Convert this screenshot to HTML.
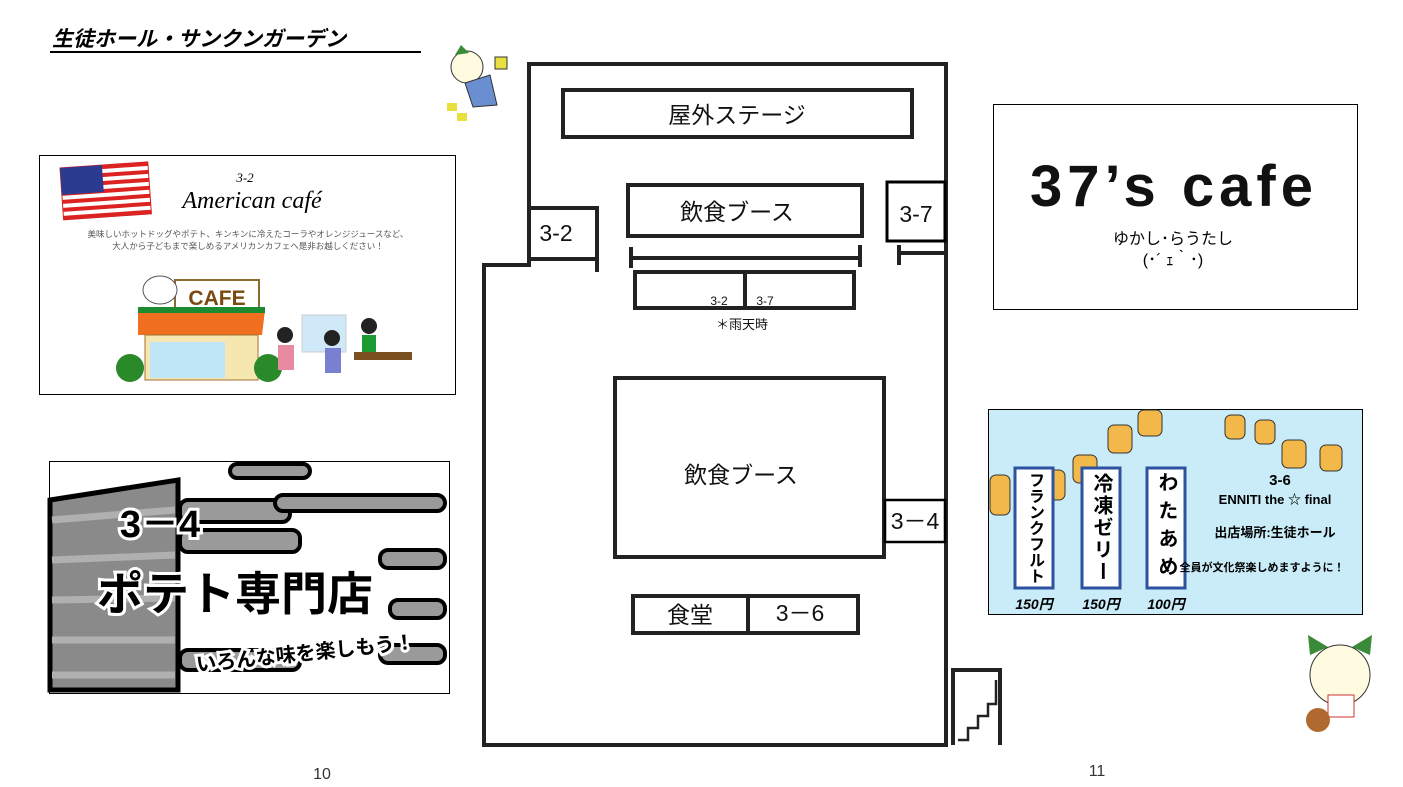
<!DOCTYPE html>
<html><head><meta charset="utf-8"><style>
body{margin:0;width:1403px;height:787px;background:#fff;overflow:hidden;font-family:"Liberation Sans","Noto Sans CJK JP",sans-serif}
svg{position:absolute;left:0;top:0}
.v{position:absolute;writing-mode:vertical-rl;font-weight:bold;color:#000;width:38px;height:120px;display:flex;align-items:center;justify-content:center;line-height:38px}
</style></head><body>
<svg width="1403" height="787" viewBox="0 0 1403 787" font-family="Liberation Sans, Noto Sans CJK JP, sans-serif">
<!-- title -->
<text x="52" y="46" font-size="21" font-weight="bold" font-style="italic">生徒ホール・サンクンガーデン</text>
<line x1="50" y1="52" x2="421" y2="52" stroke="#000" stroke-width="2"/>
<!-- mascots -->
<g transform="translate(445,45)"><circle cx="22" cy="22" r="16" fill="#fffbe0" stroke="#333"/><path d="M10 10 L16 0 L24 8Z" fill="#3a8a3a"/><path d="M20 38 L45 30 L52 60 L28 62Z" fill="#6a8fd0" stroke="#333"/><rect x="50" y="12" width="12" height="12" fill="#e8e040" stroke="#333"/><rect x="2" y="58" width="10" height="8" fill="#e8e040"/><rect x="12" y="68" width="10" height="8" fill="#e8e040"/></g>
<g transform="translate(1300,635)"><circle cx="40" cy="40" r="30" fill="#fffbe0" stroke="#333"/><path d="M10 20 L8 0 L28 12Z" fill="#3a8a3a"/><path d="M70 20 L72 0 L52 12Z" fill="#3a8a3a"/><rect x="28" y="60" width="26" height="22" fill="#fff" stroke="#c33"/><circle cx="18" cy="85" r="12" fill="#b06a30"/></g>
<!-- map -->
<g fill="none" stroke="#222" stroke-width="4">
<path d="M527 64 H946 V745 H484 V265 H529 V64"/>
<rect x="563" y="90" width="349" height="47"/>
<path d="M529 208 H597 V259 H529"/>
<line x1="597" y1="248" x2="597" y2="272"/>
<rect x="628" y="185" width="234" height="51"/>
<line x1="631" y1="258" x2="860" y2="258"/>
<line x1="631" y1="247" x2="631" y2="268"/><line x1="860" y1="245" x2="860" y2="267"/>
<rect x="635" y="272" width="219" height="36"/><line x1="745" y1="272" x2="745" y2="308"/>
<line x1="900" y1="253" x2="946" y2="253"/><line x1="899" y1="245" x2="899" y2="265"/>
<rect x="615" y="378" width="269" height="179"/>
<rect x="633" y="596" width="225" height="37"/><line x1="748" y1="596" x2="748" y2="633"/>
<path d="M953 745 V670 H1000 V745"/>
<path d="M958 740 H968 V728 H978 V716 H988 V704 H996 V680" stroke-width="2.5"/>
</g>
<rect x="887" y="182" width="58" height="59" fill="#fff" stroke="#000" stroke-width="3"/>
<rect x="885" y="500" width="60" height="42" fill="#fff" stroke="#000" stroke-width="2.5"/>
<g fill="#111" font-size="23" text-anchor="middle">
<text x="737" y="123">屋外ステージ</text>
<text x="737" y="220">飲食ブース</text>
<text x="556" y="241">3-2</text>
<text x="916" y="222">3-7</text>
<text x="741" y="483">飲食ブース</text>
<text x="915" y="529">3－4</text>
<text x="690" y="623">食堂</text>
<text x="800" y="621">3－6</text>
<text x="719" y="305" font-size="12">3-2</text>
<text x="765" y="305" font-size="12">3-7</text>
<text x="742" y="329" font-size="13">＊雨天時</text>
</g>
<text x="322" y="779" font-size="16" text-anchor="middle" fill="#333">10</text>
<text x="1097" y="776" font-size="16" text-anchor="middle" fill="#333">11</text>
<!-- cafe card -->
<rect x="39.5" y="155.5" width="416" height="239" fill="#fff" stroke="#000"/>
<g transform="translate(60,168) rotate(-4)"><rect width="88" height="52" fill="#fff" stroke="#c22"/>
<g fill="#d22"><rect y="0" width="88" height="4"/><rect y="8" width="88" height="4"/><rect y="16" width="88" height="4"/><rect y="24" width="88" height="4"/><rect y="32" width="88" height="4"/><rect y="40" width="88" height="4"/><rect y="48" width="88" height="4"/></g><rect width="42" height="27" fill="#2b3b8f"/></g>
<text x="245" y="182" font-size="13" font-style="italic" text-anchor="middle" font-family="Liberation Serif,serif">3-2</text>
<text x="252" y="208" font-size="24" font-style="italic" text-anchor="middle" font-family="Liberation Serif,serif">American café</text>
<text x="248" y="237" font-size="8.5" fill="#555" text-anchor="middle">美味しいホットドッグやポテト、キンキンに冷えたコーラやオレンジジュースなど、</text>
<text x="248" y="249" font-size="8.5" fill="#555" text-anchor="middle">大人から子どもまで楽しめるアメリカンカフェへ是非お越しください！</text>
<rect x="175" y="280" width="84" height="30" fill="#fff" stroke="#8a6a30" stroke-width="2"/>
<text x="217" y="305" font-size="21" font-weight="bold" fill="#7a4a10" text-anchor="middle">CAFE</text>
<ellipse cx="160" cy="290" rx="17" ry="14" fill="#fff" stroke="#555"/>
<path d="M138 310 H265 L262 335 H138Z" fill="#f07020"/><path d="M138 310 H265" stroke="#1c8a30" stroke-width="6"/>
<rect x="145" y="335" width="113" height="45" fill="#f6e6b0" stroke="#a07030"/>
<rect x="150" y="342" width="75" height="36" fill="#bfe6f6"/>
<circle cx="130" cy="368" r="14" fill="#2a8a2a"/><circle cx="268" cy="368" r="14" fill="#2a8a2a"/>
<rect x="302" y="315" width="44" height="37" fill="#cfe9f8" stroke="#ccc"/>
<circle cx="285" cy="335" r="8" fill="#222"/><rect x="278" y="345" width="16" height="25" fill="#e88aa0"/>
<circle cx="332" cy="338" r="8" fill="#222"/><rect x="325" y="348" width="16" height="25" fill="#7a80d0"/>
<circle cx="369" cy="326" r="8" fill="#222"/><rect x="362" y="335" width="14" height="20" fill="#1a9a30"/>
<rect x="354" y="352" width="58" height="8" fill="#7a5020"/>
<!-- 37's cafe -->
<rect x="993.5" y="104.5" width="364" height="205" fill="#fff" stroke="#000"/>
<text x="1174" y="206" font-size="58" font-weight="bold" text-anchor="middle" fill="#111" letter-spacing="5">37’s cafe</text>
<text x="1173" y="244" font-size="16" text-anchor="middle">ゆかし･らうたし</text>
<text x="1173" y="265" font-size="16" text-anchor="middle">(･´ ｪ｀･)</text>
<!-- potato -->
<rect x="49.5" y="461.5" width="400" height="232" fill="#fff" stroke="#000"/>
<path d="M50 500 L178 480 V690 H50Z" fill="#8a8a8a" stroke="#000" stroke-width="5"/>
<g stroke="#b0b0b0" stroke-width="7"><line x1="52" y1="520" x2="175" y2="510"/><line x1="52" y1="560" x2="175" y2="555"/><line x1="52" y1="600" x2="175" y2="598"/><line x1="52" y1="640" x2="175" y2="640"/><line x1="52" y1="675" x2="175" y2="675"/></g>
<g fill="#9a9a9a" stroke="#000" stroke-width="4"><rect x="180" y="500" width="110" height="22" rx="8"/><rect x="180" y="530" width="120" height="22" rx="8"/><rect x="275" y="495" width="170" height="16" rx="8"/><rect x="380" y="550" width="65" height="18" rx="8"/><rect x="390" y="600" width="55" height="18" rx="8"/><rect x="380" y="645" width="65" height="18" rx="8"/><rect x="180" y="650" width="120" height="20" rx="8"/><rect x="230" y="464" width="80" height="14" rx="7"/></g>
<g font-weight="bold" fill="#000" stroke="#fff" stroke-width="6" paint-order="stroke" text-anchor="middle">
<text x="160" y="537" font-size="38">3－4</text>
<text x="235" y="610" font-size="46">ポテト専門店</text>
<text x="305" y="660" font-size="20" transform="rotate(-6 305 650)">いろんな味を楽しもう！</text>
</g>
<!-- 3-6 card -->
<rect x="988.5" y="409.5" width="374" height="205" fill="#c9ecf8" stroke="#000"/>
<g fill="#f2b84a" stroke="#333" stroke-width="1"><rect x="1108" y="425" width="24" height="28" rx="6"/><rect x="1138" y="410" width="24" height="26" rx="6"/><rect x="1225" y="415" width="20" height="24" rx="6"/><rect x="1255" y="420" width="20" height="24" rx="6"/><rect x="1282" y="440" width="24" height="28" rx="6"/><rect x="1320" y="445" width="22" height="26" rx="6"/><rect x="1073" y="455" width="24" height="28" rx="6"/><rect x="990" y="475" width="20" height="40" rx="6"/><rect x="1045" y="470" width="20" height="30" rx="6"/></g>
<g fill="#fff" stroke="#2c52a0" stroke-width="3"><rect x="1015" y="468" width="38" height="120"/><rect x="1082" y="468" width="38" height="120"/><rect x="1147" y="468" width="38" height="120"/></g>
<g font-size="14" font-weight="bold" font-style="italic" text-anchor="middle"><text x="1034" y="609">150円</text><text x="1101" y="609">150円</text><text x="1166" y="609">100円</text></g>
<g font-weight="bold" text-anchor="middle" fill="#000">
<text x="1280" y="485" font-size="15">3-6</text>
<text x="1275" y="504" font-size="13">ENNITI  the ☆  final</text>
<text x="1275" y="537" font-size="13">出店場所:生徒ホール</text>
<text x="1262" y="571" font-size="11">全員が文化祭楽しめますように！</text>
</g>
</svg>
<div class="v" style="left:1015px;top:468px;font-size:16px">フランクフルト</div>
<div class="v" style="left:1082px;top:468px;font-size:20px;letter-spacing:2px">冷凍ゼリー</div>
<div class="v" style="left:1147px;top:468px;font-size:20px;letter-spacing:8px">わたあめ</div>
</body></html>
